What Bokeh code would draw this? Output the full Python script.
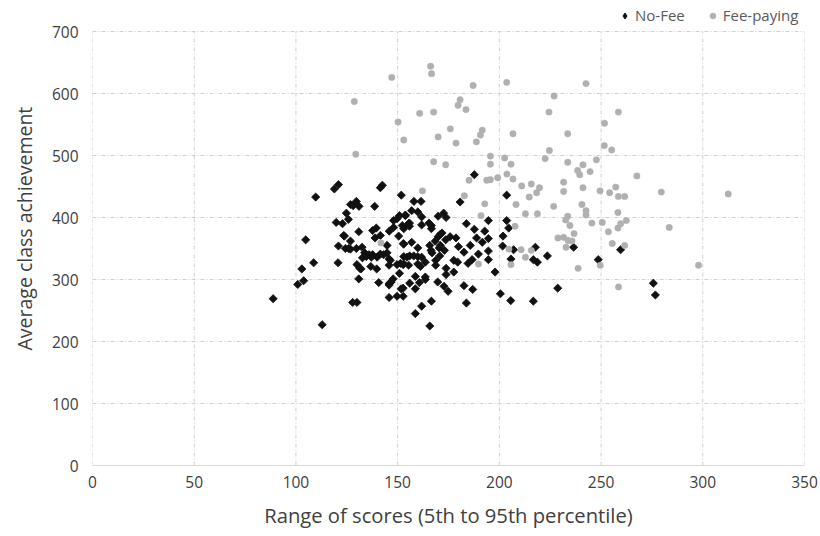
import numpy as np
from bokeh.plotting import figure
from bokeh.models import Range1d, Legend, LegendItem, FixedTicker, ColumnDataSource, Title
from bokeh.embed import file_html
from bokeh.resources import INLINE

# ---- data ----
nofee_x = [236.5, 259.6, 248.6, 275.7, 276.7,
           187.7, 203.6, 180.7, 194.6, 203.6, 204.6, 183.8, 187.7, 192.8, 194.6, 188.8, 191.6, 185.7, 201.8, 201.6,
           194.6, 189.7, 194.6, 186.6, 184.6, 182.6, 179.9, 178.7, 175.8, 173.6, 173.0, 177.6, 179.5, 177.6, 173.8,
           173.8, 197.9, 207.0, 205.7, 217.7, 216.7, 218.7, 223.6, 228.7, 200.5, 205.6, 216.7, 186.9, 182.6, 183.8,
           174.8, 172.8, 169.7, 166.6, 165.8, 161.8, 158.7, 158.7, 155.9, 152.7, 152.7, 160.7, 163.6, 163.6, 158.7,
           158.0, 161.5, 151.8, 156.9, 159.9, 161.8, 153.8, 161.8, 155.8, 155.8, 152.3, 153.0, 165.4, 166.6, 166.6,
           169.9, 172.6, 173.8, 171.0, 169.9, 171.8, 168.5, 171.0, 170.4, 153.0, 156.9, 159.9, 165.8, 166.4, 153.0,
           154.6, 155.9, 157.9, 159.9, 161.8, 151.4, 153.0, 155.4, 159.9, 161.2, 163.6, 168.7, 166.9, 170.7, 168.7,
           120.9, 118.9, 142.5, 141.5, 109.7, 129.7, 126.8, 128.1, 131.0, 138.7, 124.8, 125.8, 119.8, 122.9, 130.9,
           123.8, 126.8, 104.8, 120.9, 124.3, 125.9, 126.8, 129.7, 132.5, 108.7, 120.7, 102.9, 130.0, 131.4, 103.8,
           100.9, 88.8, 130.9, 127.9, 130.0, 112.9, 140.7, 145.8, 146.8, 145.8, 149.7, 139.7, 136.8, 145.8, 145.8,
           144.8, 137.7, 139.9, 137.7, 139.5, 145.9, 148.0, 148.0, 149.7, 150.9, 153.8, 155.4, 150.5, 152.8, 123.5,
           138.9, 141.5, 133.8, 134.6, 132.7, 136.0, 137.1, 141.5, 143.1, 144.8, 146.4, 149.7, 152.7, 150.9, 132.0,
           146.4, 147.8, 145.8, 151.7]
nofee_y = [352, 348, 332, 294, 275,
           469, 436, 425, 395, 395, 383, 390, 381, 378, 366, 367, 360, 355, 370, 354,
           346, 341, 332, 332, 326, 344, 353, 367, 369, 364, 347, 331, 328, 312, 318,
           308, 312, 348, 333, 352, 332, 328, 338, 286, 277, 266, 265, 284, 290, 262,
           281, 289, 296, 265, 225, 257, 245, 285, 294, 286, 273, 295, 300, 304, 305,
           426, 426, 436, 411, 409, 401, 403, 388, 391, 386, 387, 382, 391, 387, 382,
           402, 407, 400, 373, 369, 375, 362, 355, 351, 357, 360, 351, 355, 347, 337,
           336, 338, 338, 337, 336, 326, 325, 323, 325, 321, 328, 331, 343, 338, 323,
           453, 446, 452, 448, 433, 426, 421, 419, 418, 418, 407, 397, 392, 390, 377,
           370, 362, 364, 354, 350, 350, 349, 350, 352, 327, 327, 317, 324, 318, 298,
           292, 269, 301, 263, 263, 227, 295, 293, 296, 271, 273, 317, 321, 323, 333,
           343, 340, 336, 379, 383, 378, 384, 395, 398, 403, 404, 390, 370, 358, 371,
           367, 371, 343, 337, 335, 340, 336, 341, 340, 355, 331, 324, 324, 310, 317,
           295, 301, 291, 285]

fee_x = [147.1, 128.7, 150.2, 153.0, 129.4,
         166.2, 166.7, 187.1, 203.6, 242.6, 226.9, 180.7, 179.7, 183.6, 160.8, 167.7, 224.4, 258.5, 251.7, 175.9,
         191.6, 190.7, 169.9, 206.7, 233.6, 178.7, 188.7, 251.6, 255.2, 224.6, 195.6, 202.6, 167.7, 173.6, 195.6,
         205.7, 222.5, 233.6, 241.1, 247.7,
         203.7, 206.7, 199.2, 195.6, 193.8, 185.1, 211.0, 215.7, 219.7, 218.3, 214.7, 231.6, 231.6, 226.7, 208.2,
         212.8, 218.7, 192.8, 182.8, 162.2, 191.0, 207.7, 228.8, 231.6, 232.8, 233.8, 204.7, 210.7, 215.7, 212.8,
         205.7, 189.7, 141.8,
         238.5, 239.5, 244.6, 267.6, 241.1, 249.5, 254.2, 257.2, 258.5, 261.6, 279.6, 312.5, 240.6, 242.6, 242.6,
         233.6, 232.6, 258.3, 245.5, 250.6, 259.6, 262.4, 258.3, 283.5, 234.7, 253.6, 236.7, 235.7, 255.5, 261.6,
         249.6, 238.7, 297.9, 258.6]
fee_y = [626, 587, 554, 525, 502,
         644, 632, 613, 618, 616, 596, 590, 581, 574, 568, 570, 570, 570, 552, 543,
         541, 533, 530, 535, 535, 520, 522, 516, 509, 508, 499, 496, 490, 485, 486,
         486, 495, 489, 485, 493,
         470, 462, 464, 461, 460, 460, 451, 454, 448, 440, 433, 457, 442, 418, 421,
         406, 406, 422, 435, 443, 403, 386, 367, 368, 352, 363, 349, 348, 347, 336,
         324, 325, 359,
         476, 469, 474, 467, 448, 443, 440, 449, 434, 434, 441, 438, 421, 411, 404,
         402, 396, 408, 391, 392, 390, 395, 383, 384, 387, 377, 374, 362, 358, 355,
         323, 318, 323, 288]

x_ticks = [0, 50, 100, 150, 200, 250, 300, 350]
y_ticks = [0, 100, 200, 300, 400, 500, 600, 700]
series_names = ["No-Fee", "Fee-paying"]
x_title = "Range of scores (5th to 95th percentile)"
y_title = "Average class achievement"

FONT = "Open Sans"
TXT = "#404040"
GRID = "#d0d0d0"
DASH = "4 2 1 2"

# frame reaches the top of the page so that the legend (drawn inside the frame) is visible
p = figure(width=820, height=536, output_backend="svg", toolbar_location=None,
           x_range=Range1d(0, 350), y_range=Range1d(0, 750),
           min_border_left=92, min_border_right=16, min_border_top=0, min_border_bottom=71)
p.outline_line_color = None
p.background_fill_color = "white"
p.border_fill_color = "white"

for ax, ticks in ((p.xaxis, x_ticks), (p.yaxis, y_ticks)):
    ax.ticker = FixedTicker(ticks=ticks)
    ax.major_tick_line_color = None
    ax.minor_tick_line_color = None
    ax.major_label_text_font = FONT
    ax.major_label_text_font_size = "15.5px"
    ax.major_label_text_color = TXT
    ax.axis_label_text_font = FONT
    ax.axis_label_text_font_size = "20.2px"
    ax.axis_label_text_font_style = "normal"
    ax.axis_label_text_color = TXT

p.xaxis.axis_label = x_title
p.xaxis.axis_line_color = "#d9d9d9"
p.yaxis.axis_line_color = None
p.xaxis.major_label_standoff = 4
p.xaxis.axis_label_standoff = 10
p.yaxis.major_label_standoff = 8

ytitle = Title(text=y_title, align="left", vertical_align="top", offset=115, text_font=FONT,
               text_font_size="19.5px", text_font_style="normal", text_color=TXT,
               standoff=18)
p.add_layout(ytitle, "left")

# horizontal grid from the axis ticks
p.ygrid.ticker = FixedTicker(ticks=y_ticks)
p.ygrid.grid_line_color = GRID
p.ygrid.grid_line_dash = DASH
# vertical grid limited to the value range of the y axis
p.xgrid.visible = False
p.segment(x0=x_ticks, y0=[y_ticks[0]] * len(x_ticks), x1=x_ticks, y1=[y_ticks[-1]] * len(x_ticks),
          line_color=GRID, line_dash=DASH, line_width=1)

src_nf = ColumnDataSource(dict(x=nofee_x, y=nofee_y))
src_f = ColumnDataSource(dict(x=fee_x, y=fee_y))

p.scatter("x", "y", source=src_nf, marker="square", angle=np.pi / 4, size=5.8,
          fill_color="#111111", line_color="#111111", line_width=0.8)
r_f = p.scatter("x", "y", source=src_f, marker="circle", size=6.4,
                fill_color="#b0b0b0", line_color="#b0b0b0", line_width=0.5)
# hidden twin of the No-Fee series, used only to draw a diamond in the legend
r_nf_leg = p.scatter("x", "y", source=src_nf, marker="diamond", size=8,
                     fill_color="#111111", line_color="#111111", visible=False)

legend = Legend(items=[LegendItem(label=series_names[0], renderers=[r_nf_leg]),
                       LegendItem(label=series_names[1], renderers=[r_f])],
                location=(525, 440), orientation="horizontal",
                border_line_color=None, background_fill_alpha=0,
                inactive_fill_alpha=0,
                label_text_font=FONT, label_text_font_size="15px", label_text_color="#595959",
                glyph_width=15, glyph_height=15, label_height=16, label_standoff=3, spacing=20,
                padding=0, margin=0)
p.add_layout(legend)

open("out.html", "w").write(file_html(p, INLINE))
